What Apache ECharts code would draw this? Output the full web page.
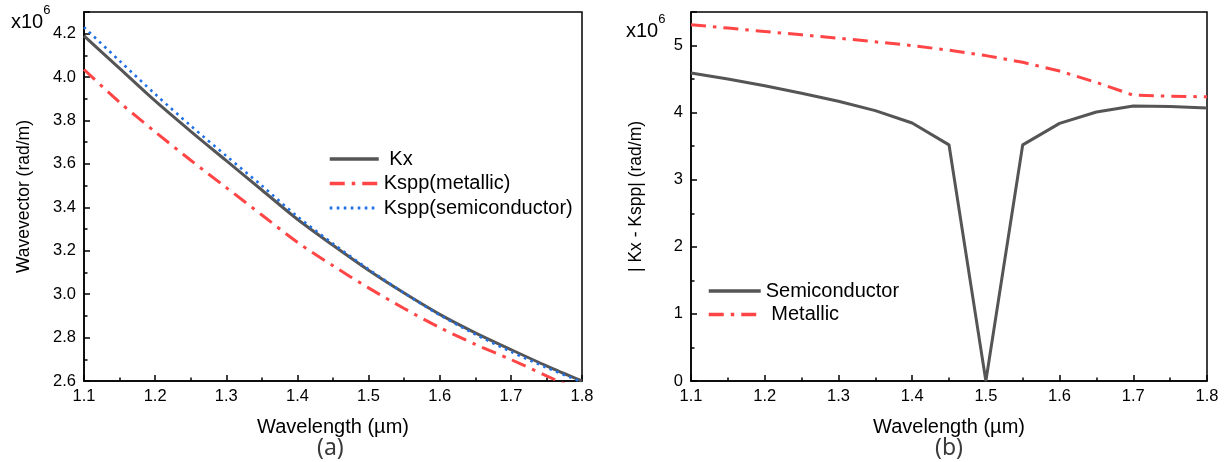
<!DOCTYPE html>
<html>
<head>
<meta charset="utf-8">
<script src="https://cdn.jsdelivr.net/npm/echarts@6/dist/echarts.min.js"></script>
<style>html,body{margin:0;padding:0;background:#fff}#c{width:1225px;height:462px}</style>
</head>
<body>
<div id="c"></div>
<script>
// Wavelength (µm)
const wavelengths = [1.1, 1.15, 1.2, 1.25, 1.3, 1.35, 1.4, 1.45, 1.5, 1.55, 1.6, 1.65, 1.7, 1.75, 1.8];
// Panel (a): wavevector (x10^6 rad/m)
const kx =            [4.19, 4.04, 3.89, 3.75, 3.615, 3.48, 3.345, 3.225, 3.11, 3.005, 2.907, 2.822, 2.745, 2.67, 2.6];
const ksppMetallic =  [4.035, 3.884, 3.748, 3.617, 3.491, 3.365, 3.239, 3.131, 3.029, 2.934, 2.846, 2.769, 2.699, 2.624, 2.55];
const ksppSemi =      [4.23, 4.075, 3.922, 3.776, 3.637, 3.5, 3.358, 3.233, 3.115, 3.005, 2.904, 2.815, 2.735, 2.662, 2.595];
// Panel (b): |Kx - Kspp| (x10^6 rad/m)
const diffSemi =      [4.59, 4.5, 4.4, 4.29, 4.17, 4.03, 3.845, 3.52, 0.0, 3.52, 3.84, 4.01, 4.1, 4.09, 4.07];
const diffMetallic =  [5.31, 5.26, 5.21, 5.16, 5.11, 5.055, 5.0, 4.93, 4.85, 4.75, 4.62, 4.45, 4.26, 4.245, 4.235];
// Tick settings
const xTicks = {min: 1.1, max: 1.8, interval: 0.1};
const yTicksA = {min: 2.6, max: 4.3, interval: 0.2};
const yTicksB = {min: 0, max: 5.5, interval: 1};

const FONT = "'Liberation Sans', Arial, sans-serif";
const pair = arr => wavelengths.map((w, i) => [w, arr[i]]);

const axisCommon = {
  axisLine: {show: true, lineStyle: {color: '#000', width: 1.5}},
  axisTick: {show: true, inside: true, length: 6, lineStyle: {color: '#000', width: 1.5}},
  minorTick: {show: true, splitNumber: 2, length: 3.5, lineStyle: {color: '#000', width: 1.5}},
  splitLine: {show: false},
};

function xAx(gridIndex) {
  return Object.assign({}, axisCommon, {
    type: 'value', gridIndex, min: xTicks.min, max: xTicks.max, interval: xTicks.interval,
    name: 'Wavelength (µm)', nameLocation: 'middle', nameGap: 36,
    nameTextStyle: {color: '#000', fontSize: 20, fontFamily: FONT},
    axisLabel: {color: '#000', fontSize: 16.5, fontFamily: FONT, margin: 7, formatter: v => v.toFixed(1)}
  });
}
function yAx(gridIndex, t, name, gap, digits) {
  return Object.assign({}, axisCommon, {
    type: 'value', gridIndex, min: t.min, max: t.max, interval: t.interval,
    name, nameLocation: 'middle', nameGap: gap,
    nameTextStyle: {color: '#000', fontSize: 17.5, fontFamily: FONT},
    axisLabel: {color: '#000', fontSize: 16.5, fontFamily: FONT, margin: 8, showMaxLabel: false,
      formatter: v => v.toFixed(digits)}
  });
}

const BLACK = '#555555', RED = '#ff4545', BLUE = '#1f6fe6';
const dashDot = [15, 7, 3.5, 7];

const chart = echarts.init(document.getElementById('c'), null, {renderer: 'canvas'});
chart.setOption({
  animation: false,
  backgroundColor: '#fff',
  textStyle: {fontFamily: FONT},
  grid: [
    {left: 84, top: 12, width: 498, height: 369, show: true, borderColor: '#000', borderWidth: 1.5, backgroundColor: 'transparent'},
    {left: 691, top: 12, width: 516, height: 369, show: true, borderColor: '#000', borderWidth: 1.5, backgroundColor: 'transparent'}
  ],
  xAxis: [xAx(0), xAx(1)],
  yAxis: [
    yAx(0, yTicksA, 'Wavevector (rad/m)', 51, 1),
    yAx(1, yTicksB, '| Kx - Kspp| (rad/m)', 46, 0)
  ],
  legend: [
    {
      data: [
        {name: 'Kx', lineStyle: {width: 3.5}},
        {name: 'Kspp(metallic)', lineStyle: {width: 3.5}},
        {name: 'Kspp(semiconductor)', lineStyle: {width: 3}}
      ],
      left: 323, top: 144, orient: 'vertical', itemWidth: 49, itemHeight: 14, itemGap: 4.5,
      itemStyle: {opacity: 0},
      textStyle: {color: '#000', fontSize: 20, lineHeight: 20, fontFamily: FONT},
      formatter: n => n === 'Kx' ? ' Kx' : n
    },
    {
      data: [
        {name: 'Semiconductor', lineStyle: {width: 3.5}},
        {name: 'Metallic', lineStyle: {width: 3.5}}
      ],
      left: 702, top: 276, orient: 'vertical', itemWidth: 52, itemHeight: 14, itemGap: 3.6,
      itemStyle: {opacity: 0},
      textStyle: {color: '#000', fontSize: 20, lineHeight: 20, fontFamily: FONT},
      formatter: n => n === 'Metallic' ? ' Metallic' : n
    }
  ],
  series: [
    {name: 'Kx', type: 'line', xAxisIndex: 0, yAxisIndex: 0, data: pair(kx), smooth: 0.3, symbol: 'none',
      lineStyle: {color: BLACK, width: 3}, itemStyle: {color: BLACK}, z: 3},
    {name: 'Kspp(metallic)', type: 'line', xAxisIndex: 0, yAxisIndex: 0, data: pair(ksppMetallic), smooth: 0.3, symbol: 'none',
      lineStyle: {color: RED, width: 3, type: dashDot}, itemStyle: {color: RED}, z: 2},
    {name: 'Kspp(semiconductor)', type: 'line', xAxisIndex: 0, yAxisIndex: 0, data: pair(ksppSemi), smooth: 0.3, symbol: 'none',
      lineStyle: {color: BLUE, width: 2.6, type: [2.6, 4.4]}, itemStyle: {color: BLUE}, z: 4},
    {name: 'Semiconductor', type: 'line', xAxisIndex: 1, yAxisIndex: 1, data: pair(diffSemi), symbol: 'none',
      lineStyle: {color: BLACK, width: 3}, itemStyle: {color: BLACK}},
    {name: 'Metallic', type: 'line', xAxisIndex: 1, yAxisIndex: 1, data: pair(diffMetallic), symbol: 'none',
      lineStyle: {color: RED, width: 3, type: dashDot}, itemStyle: {color: RED}}
  ],
  graphic: [
    {type: 'text', left: 11, top: 4, style: {text: '{a|x10}{s|6}', rich: {
      a: {fontSize: 20, fontFamily: FONT, fill: '#000', padding: [8, 0, 0, 0]},
      s: {fontSize: 13, fontFamily: FONT, fill: '#000', verticalAlign: 'top', padding: [0, 0, 9, 0]}}}},
    {type: 'text', left: 626, top: 13, style: {text: '{a|x10}{s|6}', rich: {
      a: {fontSize: 20, fontFamily: FONT, fill: '#000', padding: [8, 0, 0, 0]},
      s: {fontSize: 13, fontFamily: FONT, fill: '#000', verticalAlign: 'top', padding: [0, 0, 9, 0]}}}},
    {type: 'text', left: 317, top: 437, style: {text: '(a)', fontSize: 23, fontFamily: "'Noto Sans', " + FONT, fill: '#3a3a3a'}},
    {type: 'text', left: 935, top: 437, style: {text: '(b)', fontSize: 23, fontFamily: "'Noto Sans', " + FONT, fill: '#3a3a3a'}}
  ]
});
</script>
</body>
</html>
